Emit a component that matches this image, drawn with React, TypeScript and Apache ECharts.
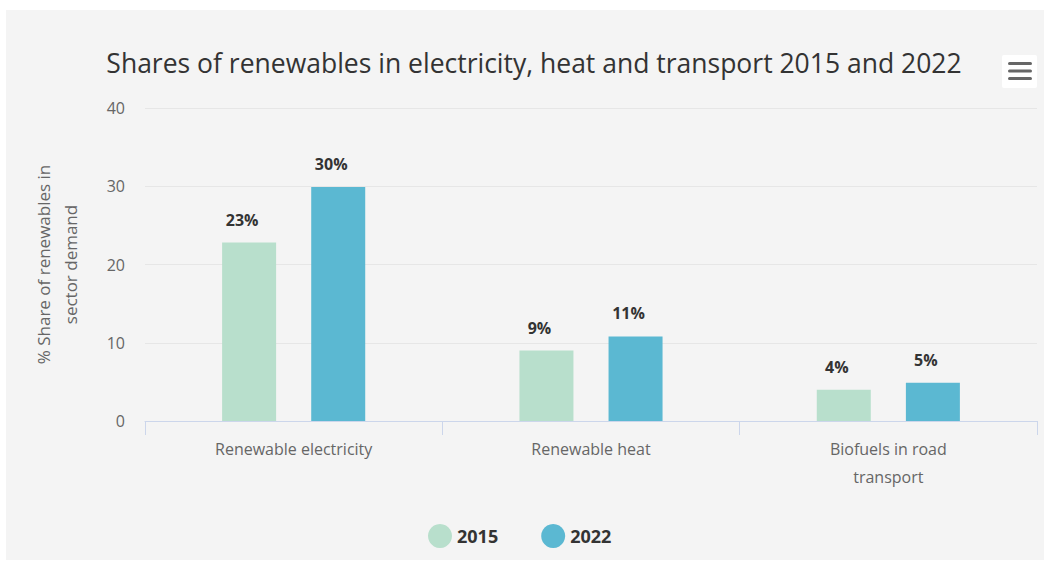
import React, { useEffect, useRef } from "react";
import * as echarts from "echarts";

const categories = ["Renewable electricity", "Renewable heat", "Biofuels in road\ntransport"];
const values2015 = [22.8, 9.0, 4.0];
const values2022 = [29.9, 10.8, 4.9];
const seriesNames = ["2015", "2022"];
const yTicks = { min: 0, max: 40, interval: 10 };

const FONT = "'Open Sans', 'Noto Sans', sans-serif";

export default function App() {
  const ref = useRef<HTMLDivElement>(null);
  useEffect(() => {
    if (!ref.current) return;
    const chart = echarts.init(ref.current, null, { renderer: "svg" });
    const label = {
      show: true,
      position: "top",
      distance: 15,
      offset: [-7, 0],
      formatter: (p: any) => Math.round(p.value) + "%",
      fontFamily: FONT,
      fontSize: 16,
      fontWeight: "bold",
      color: "#333333",
    };
    chart.setOption({
      animation: false,
      backgroundColor: "#ffffff",
      textStyle: { fontFamily: FONT },
      graphic: [
        {
          type: "rect",
          z: -10,
          silent: true,
          shape: { x: 6, y: 10, width: 1038, height: 550 },
          style: { fill: "#f4f4f4" },
        },
        {
          type: "rect",
          shape: { x: 1002, y: 55, width: 35, height: 33, r: 2 },
          style: { fill: "#ffffff" },
        },
        { type: "rect", shape: { x: 1008, y: 62, width: 24, height: 3, r: 1.5 }, style: { fill: "#666666" } },
        { type: "rect", shape: { x: 1008, y: 69.5, width: 24, height: 3, r: 1.5 }, style: { fill: "#666666" } },
        { type: "rect", shape: { x: 1008, y: 77, width: 24, height: 3, r: 1.5 }, style: { fill: "#666666" } },
      ],
      title: {
        text: "Shares of renewables in electricity, heat and transport 2015 and 2022",
        left: 529,
        top: 44,
        textAlign: "center",
        textStyle: { fontFamily: FONT, fontSize: 26.5, fontWeight: "normal", color: "#333333" },
      },
      legend: {
        bottom: 10,
        left: 423,
        icon: "circle",
        itemWidth: 24,
        itemHeight: 24,
        itemGap: 43,
        itemStyle: { borderWidth: 0 },
        data: seriesNames,
        textStyle: { fontFamily: FONT, fontSize: 18, fontWeight: "bold", color: "#333333" },
      },
      grid: { left: 145, right: 14, top: 108, bottom: 142 },
      xAxis: {
        type: "category",
        data: categories,
        axisLine: { lineStyle: { color: "#ccd6eb" } },
        axisTick: { show: true, length: 14, lineStyle: { color: "#ccd6eb" } },
        axisLabel: { color: "#666666", fontSize: 16, margin: 14, lineHeight: 28, fontFamily: FONT },
      },
      yAxis: {
        type: "value",
        min: yTicks.min,
        max: yTicks.max,
        interval: yTicks.interval,
        name: "% Share of renewables in\nsector demand",
        nameLocation: "middle",
        nameGap: 61,
        nameRotate: 90,
        nameTextStyle: { color: "#666666", fontSize: 17, fontFamily: FONT, lineHeight: 27 },
        axisLine: { show: false },
        axisTick: { show: false },
        axisLabel: { color: "#666666", fontSize: 16, margin: 20, fontFamily: FONT },
        splitLine: { lineStyle: { color: "#e6e6e6" } },
      },
      series: [
        {
          name: seriesNames[0],
          type: "bar",
          data: values2015,
          barWidth: 54,
          barGap: "65%",
          itemStyle: { color: "#b8dfcc" },
          label,
        },
        {
          name: seriesNames[1],
          type: "bar",
          data: values2022,
          barWidth: 54,
          barGap: "65%",
          itemStyle: { color: "#5bb8d2" },
          label,
        },
      ],
    });
    return () => chart.dispose();
  }, []);
  return (
    <div
      ref={ref}
      style={{ position: "absolute", left: 0, top: 0, width: 1051, height: 563 }}
    />
  );
}
